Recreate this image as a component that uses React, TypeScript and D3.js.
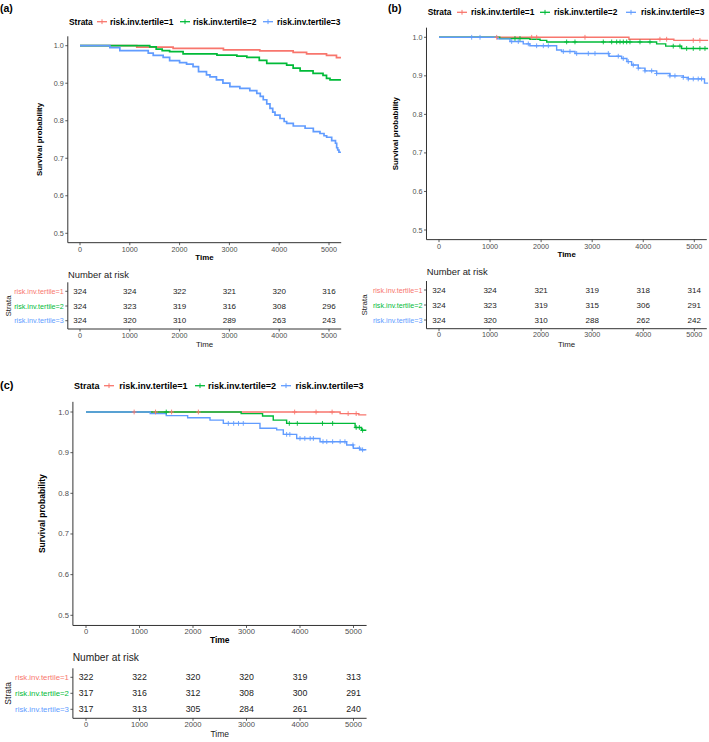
import React from "react";
import * as d3 from "d3";

const STRATA = ["risk.inv.tertile=1", "risk.inv.tertile=2", "risk.inv.tertile=3"];
const COLORS = ["#F8766D", "#00BA38", "#619CFF"];
const X_TICKS = [0, 1000, 2000, 3000, 4000, 5000];
const Y_TICKS = [0.5, 0.6, 0.7, 0.8, 0.9, 1.0];
const RISK_TIMES = [0, 1000, 2000, 3000, 4000, 5000];
const PANEL_LABELS = ["(a)", "(b)", "(c)"];

type Pt = [number, number];

// Panel (a) survival steps [time, survival]
const A_RED: Pt[] = [[0, 1], [1140, 0.996], [1870, 0.993], [2880, 0.989], [3610, 0.986], [4280, 0.982], [4550, 0.978], [4950, 0.974], [5150, 0.968], [5240, 0.968]];
const A_GREEN: Pt[] = [[0, 1], [1400, 0.997], [1530, 0.991], [1650, 0.987], [1800, 0.984], [2070, 0.978], [2750, 0.975], [3150, 0.972], [3350, 0.969], [3600, 0.961], [3750, 0.953], [4150, 0.948], [4280, 0.94], [4420, 0.933], [4680, 0.926], [4880, 0.921], [4950, 0.913], [5020, 0.909], [5240, 0.909]];
const A_BLUE: Pt[] = [[0, 1], [600, 0.995], [800, 0.987], [1370, 0.98], [1470, 0.974], [1670, 0.969], [1800, 0.96], [2000, 0.955], [2140, 0.951], [2270, 0.944], [2380, 0.931], [2540, 0.922], [2610, 0.917], [2740, 0.909], [2870, 0.9], [3010, 0.891], [3210, 0.886], [3410, 0.88], [3550, 0.873], [3620, 0.865], [3680, 0.856], [3750, 0.845], [3815, 0.833], [3870, 0.823], [3916, 0.815], [4016, 0.806], [4100, 0.798], [4150, 0.793], [4283, 0.786], [4520, 0.78], [4685, 0.771], [4819, 0.766], [4900, 0.76], [4953, 0.756], [5054, 0.747], [5130, 0.74], [5154, 0.728], [5175, 0.722], [5200, 0.716], [5240, 0.716]];
const A_CENS_RED: number[] = [];
const A_CENS_GREEN: number[] = [];
const A_CENS_BLUE: number[] = [];
const A_RISK = [[324, 324, 322, 321, 320, 316], [324, 323, 319, 316, 308, 296], [324, 320, 310, 289, 263, 243]];

// Panel (b)
const B_RED: Pt[] = [[0, 1], [3720, 0.995], [4600, 0.992], [5270, 0.992]];
const B_GREEN: Pt[] = [[0, 1], [1190, 0.997], [1780, 0.995], [1980, 0.992], [2110, 0.988], [4262, 0.983], [4440, 0.977], [4750, 0.971], [5270, 0.971]];
const B_BLUE: Pt[] = [[0, 1], [1150, 0.996], [1390, 0.989], [1650, 0.983], [1780, 0.978], [2304, 0.967], [2400, 0.963], [2663, 0.958], [3330, 0.951], [3577, 0.945], [3680, 0.937], [3773, 0.928], [3903, 0.92], [4034, 0.913], [4262, 0.906], [4523, 0.9], [4784, 0.896], [4882, 0.892], [5200, 0.881], [5270, 0.881]];
const B_CENS_RED = [1130, 1815, 1913, 2859, 4327, 4458, 4980, 5110];
const B_CENS_GREEN = [1488, 1586, 2500, 2663, 3218, 3382, 3480, 3545, 3610, 3676, 3740, 3936, 4132, 4588, 4719, 4850, 4980, 5110, 5209];
const B_CENS_BLUE = [640, 803, 1423, 1553, 1749, 1912, 2043, 2141, 2435, 2565, 2696, 2924, 3055, 3316, 3511, 3609, 3707, 3805, 3903, 4034, 4165, 4262, 4523, 4621, 4784, 4882, 4980, 5077, 5143];
const B_RISK = [[324, 324, 321, 319, 318, 314], [324, 323, 319, 315, 306, 291], [324, 320, 310, 288, 262, 242]];

// Panel (c)
const C_RED: Pt[] = [[0, 1], [4750, 0.996], [5100, 0.993], [5240, 0.993]];
const C_GREEN: Pt[] = [[0, 1], [2900, 0.996], [3300, 0.99], [3500, 0.98], [3750, 0.972], [5030, 0.962], [5150, 0.955], [5240, 0.955]];
const C_BLUE: Pt[] = [[0, 1], [1200, 0.996], [1500, 0.991], [1900, 0.986], [2318, 0.98], [2567, 0.972], [3252, 0.96], [3564, 0.956], [3688, 0.945], [3938, 0.935], [4374, 0.927], [4873, 0.919], [4997, 0.911], [5120, 0.907], [5240, 0.907]];
const C_CENS_RED = [900, 1300, 1600, 2100, 3900, 4300, 4600, 4900, 5050];
const C_CENS_GREEN = [1500, 3800, 3950, 4420, 4610, 5050, 5110, 5170];
const C_CENS_BLUE = [2660, 2760, 2850, 2940, 3750, 3810, 4000, 4090, 4190, 4250, 4430, 4500, 4610, 4750, 4840, 4990, 5110, 5170];
const C_RISK = [[322, 322, 320, 320, 319, 313], [317, 316, 312, 308, 300, 291], [317, 313, 305, 284, 261, 240]];

const FONT = "'Liberation Sans', Arial, Helvetica, sans-serif";

type Layout = {
  labelX: number; labelY: number; labelSize: number;
  legendY: number; strataX: number; keyX: number[]; textX: number[]; legendSize: number;
  x0: number; x5000: number; y10: number; y05: number;
  yLabelX: number; tickSize: number; titleSize: number; lineW: number;
  tableTitleX: number; tableTitleY: number; tableTitleSize: number;
  rowTop: number; rowBottom: number; tableAxisY: number; numSize: number; strataLabelSize: number; strataTitleX: number;
};

const LAYOUTS: Layout[] = [
  {
    labelX: 0, labelY: 8, labelSize: 10.5,
    legendY: 21.7, strataX: 69, keyX: [102, 185, 268], textX: [110, 193, 277], legendSize: 8.4,
    x0: 80, x5000: 329, y10: 45.7, y05: 233.3,
    yLabelX: 39, tickSize: 7.2, titleSize: 7.9, lineW: 1.7,
    tableTitleX: 68, tableTitleY: 274, tableTitleSize: 9.4,
    rowTop: 291.3, rowBottom: 320.7, tableAxisY: 329, numSize: 8, strataLabelSize: 7.2, strataTitleX: 8,
  },
  {
    labelX: 388, labelY: 8, labelSize: 10.5,
    legendY: 12.3, strataX: 427.7, keyX: [462, 545, 631], textX: [471, 554, 641], legendSize: 8.4,
    x0: 439, x5000: 694.3, y10: 37.3, y05: 230,
    yLabelX: 395, tickSize: 7.2, titleSize: 7.9, lineW: 1.4,
    tableTitleX: 426.7, tableTitleY: 271.3, tableTitleSize: 9.4,
    rowTop: 290, rowBottom: 320, tableAxisY: 328.7, numSize: 8, strataLabelSize: 7.2, strataTitleX: 364.3,
  },
  {
    labelX: 0, labelY: 385, labelSize: 11,
    legendY: 385.7, strataX: 74, keyX: [109, 200, 286], textX: [119.3, 208, 295.5], legendSize: 9,
    x0: 86, x5000: 353.5, y10: 412, y05: 615.3,
    yLabelX: 42, tickSize: 7.6, titleSize: 8.5, lineW: 1.4,
    tableTitleX: 72.7, tableTitleY: 657.3, tableTitleSize: 10.2,
    rowTop: 677.3, rowBottom: 709.3, tableAxisY: 718.3, numSize: 8.8, strataLabelSize: 7.8, strataTitleX: 8.3,
  },
];

const PANEL_CURVES = [[A_RED, A_GREEN, A_BLUE], [B_RED, B_GREEN, B_BLUE], [C_RED, C_GREEN, C_BLUE]];
const PANEL_CENSORS = [[A_CENS_RED, A_CENS_GREEN, A_CENS_BLUE], [B_CENS_RED, B_CENS_GREEN, B_CENS_BLUE], [C_CENS_RED, C_CENS_GREEN, C_CENS_BLUE]];
const PANEL_RISK = [A_RISK, B_RISK, C_RISK];

function survAt(curve: Pt[], t: number): number {
  let s = curve[0][1];
  for (const p of curve) {
    if (p[0] <= t) s = p[1];
    else break;
  }
  return s;
}

function Panel({ idx }: { idx: number }) {
  const L = LAYOUTS[idx];
  const curves = PANEL_CURVES[idx];
  const censors = PANEL_CENSORS[idx];
  const risk = PANEL_RISK[idx];
  const xs = d3.scaleLinear().domain([0, 5000]).range([L.x0, L.x5000]);
  const ys = d3.scaleLinear().domain([0.5, 1]).range([L.y05, L.y10]);
  const xLeft = xs(-245);
  const xRight = xs(5245);
  const yTop = ys(1.025);
  const yBot = ys(0.475);
  const line = d3.line<Pt>().x((d) => xs(d[0])).y((d) => ys(d[1])).curve(d3.curveStepAfter);
  const rowScale = d3.scalePoint<string>().domain(STRATA).range([L.rowTop, L.rowBottom]);
  const axisColor = "#333";
  const tickColor = "#4D4D4D";
  const cs = 2.4;
  return (
    <g fontFamily={FONT}>
      <text x={L.labelX} y={L.labelY} fontSize={L.labelSize} fontWeight="bold" dominantBaseline="central" fill="#000">{PANEL_LABELS[idx]}</text>
      {/* legend */}
      <text x={L.strataX} y={L.legendY} fontSize={L.legendSize} fontWeight="bold" dominantBaseline="central" fill="#000">Strata</text>
      {STRATA.map((s, i) => (
        <g key={s}>
          <line x1={L.keyX[i] - 5} x2={L.keyX[i] + 5} y1={L.legendY} y2={L.legendY} stroke={COLORS[i]} strokeWidth={1.3} />
          <line x1={L.keyX[i]} x2={L.keyX[i]} y1={L.legendY - cs} y2={L.legendY + cs} stroke={COLORS[i]} strokeWidth={1} />
          <text x={L.textX[i]} y={L.legendY} fontSize={L.legendSize} fontWeight="bold" dominantBaseline="central" fill="#000">{s}</text>
        </g>
      ))}
      {/* curves */}
      {curves.map((c, i) => (
        <path key={"c" + i} d={line(c) || ""} fill="none" stroke={COLORS[i]} strokeWidth={L.lineW} />
      ))}
      {censors.map((cl, i) =>
        cl.map((t, j) => {
          const cx = xs(t);
          const cy = ys(survAt(curves[i], t));
          return (
            <g key={"m" + i + "-" + j} stroke={COLORS[i]} strokeWidth={0.9}>
              <line x1={cx - cs} x2={cx + cs} y1={cy} y2={cy} />
              <line x1={cx} x2={cx} y1={cy - cs} y2={cy + cs} />
            </g>
          );
        })
      )}
      {/* axes */}
      <line x1={xLeft} x2={xLeft} y1={yTop} y2={yBot} stroke={axisColor} strokeWidth={1} />
      <line x1={xLeft} x2={xRight} y1={yBot} y2={yBot} stroke={axisColor} strokeWidth={1} />
      {Y_TICKS.map((v) => (
        <g key={"y" + v}>
          <line x1={xLeft - 2.5} x2={xLeft} y1={ys(v)} y2={ys(v)} stroke={axisColor} strokeWidth={0.8} />
          <text x={xLeft - 4} y={ys(v)} fontSize={L.tickSize} textAnchor="end" dominantBaseline="central" fill={tickColor}>{v.toFixed(1)}</text>
        </g>
      ))}
      {X_TICKS.map((v) => (
        <g key={"x" + v}>
          <line x1={xs(v)} x2={xs(v)} y1={yBot} y2={yBot + 2.5} stroke={axisColor} strokeWidth={0.8} />
          <text x={xs(v)} y={yBot + 6.5} fontSize={L.tickSize} textAnchor="middle" dominantBaseline="central" fill={tickColor}>{v}</text>
        </g>
      ))}
      <text x={(xLeft + xRight) / 2} y={yBot + 15} fontSize={L.titleSize} fontWeight="bold" textAnchor="middle" dominantBaseline="central" fill="#000">Time</text>
      <text transform={`translate(${L.yLabelX},${(yTop + yBot) / 2}) rotate(-90)`} fontSize={L.titleSize} fontWeight="bold" textAnchor="middle" dominantBaseline="central" fill="#000">Survival probability</text>
      {/* risk table */}
      <text x={L.tableTitleX} y={L.tableTitleY} fontSize={L.tableTitleSize} dominantBaseline="central" fill="#222">Number at risk</text>
      <line x1={xLeft} x2={xLeft} y1={L.rowTop - 9} y2={L.tableAxisY} stroke={axisColor} strokeWidth={1} />
      <line x1={xLeft} x2={xRight} y1={L.tableAxisY} y2={L.tableAxisY} stroke={axisColor} strokeWidth={1} />
      {STRATA.map((s, i) => (
        <g key={"r" + i}>
          <line x1={xLeft - 2.5} x2={xLeft} y1={rowScale(s)} y2={rowScale(s)} stroke={axisColor} strokeWidth={0.8} />
          <text x={xLeft - 4} y={rowScale(s)} fontSize={L.strataLabelSize} textAnchor="end" dominantBaseline="central" fill={COLORS[i]}>{s}</text>
          {RISK_TIMES.map((t, j) => (
            <text key={"n" + j} x={xs(t)} y={rowScale(s)} fontSize={L.numSize} textAnchor="middle" dominantBaseline="central" fill="#222">{risk[i][j]}</text>
          ))}
        </g>
      ))}
      {X_TICKS.map((v) => (
        <g key={"tx" + v}>
          <line x1={xs(v)} x2={xs(v)} y1={L.tableAxisY} y2={L.tableAxisY + 2.5} stroke={axisColor} strokeWidth={0.8} />
          <text x={xs(v)} y={L.tableAxisY + 6} fontSize={L.tickSize} textAnchor="middle" dominantBaseline="central" fill={tickColor}>{v}</text>
        </g>
      ))}
      <text x={(xLeft + xRight) / 2} y={L.tableAxisY + 15.5} fontSize={L.titleSize} textAnchor="middle" dominantBaseline="central" fill="#222">Time</text>
      <text transform={`translate(${L.strataTitleX},${(L.rowTop + L.rowBottom) / 2}) rotate(-90)`} fontSize={L.titleSize} textAnchor="middle" dominantBaseline="central" fill="#222">Strata</text>
    </g>
  );
}

export default function App() {
  return (
    <svg width={709} height={742} viewBox="0 0 709 742" style={{ position: "absolute", left: 0, top: 0, display: "block", background: "#fff" }}>
      <rect x={0} y={0} width={709} height={742} fill="#fff" />
      <Panel idx={0} />
      <Panel idx={1} />
      <Panel idx={2} />
    </svg>
  );
}
